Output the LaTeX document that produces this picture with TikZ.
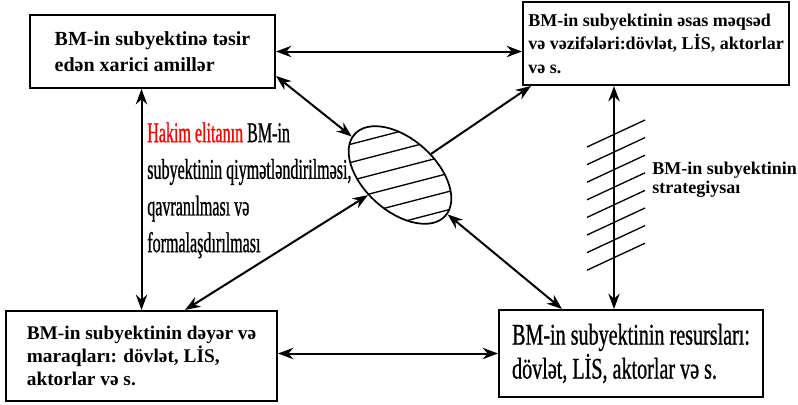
\documentclass[tikz,border=0pt]{standalone}
\usepackage{fontspec}
\setmainfont{Liberation Serif}
\newfontfamily\narrowfont[FakeStretch=0.56, FakeBold=0.8]{Liberation Serif}
\newfontfamily\midfont[FakeStretch=0.67, FakeBold=0.8]{Liberation Serif}
\usetikzlibrary{arrows, arrows.meta}
\usetikzlibrary{positioning}
\usetikzlibrary{calc}
\usetikzlibrary{shapes.geometric}

\tikzset{
  factor/.style={draw, line width=1.5pt, inner sep=0pt, align=left},
  link/.style={line width=1.5pt, {Stealth[length=11.5pt,width=8.5pt]}-{Stealth[length=11.5pt,width=8.5pt]}},
  onelink/.style={line width=1.5pt, -{Stealth[length=11.5pt,width=8.5pt]}},
  hatch/.style={line width=1pt}
}

\begin{document}
\begin{tikzpicture}[x=0.75pt, y=-0.75pt]
				\useasboundingbox (0,0) rectangle (798,404);
				
				% Four boxes
				\node[factor, font=\bfseries\fontsize{15}{19}\selectfont, minimum width=183.75pt, minimum height=54.75pt] (outer) at (152.5,51.5) {BM-in subyektinə təsir\\edən xarici amillər};
				\node[factor, font=\bfseries\fontsize{13.5}{17.6}\selectfont, minimum width=199.5pt, minimum height=62.25pt] (goals) at (656,43.5) {BM-in subyektinin əsas məqsəd\\və vəzifələri:dövlət, LİS, aktorlar\\və s.};
				\node[factor, font=\bfseries\fontsize{14.5}{17}\selectfont, minimum width=203.25pt, minimum height=67.5pt] (values) at (141.5,356) {BM-in subyektinin dəyər və\\maraqları: dövlət, LİS,\\aktorlar və s.};
				\node[factor, font=\midfont\fontsize{22.5}{25.5}\selectfont, minimum width=198pt, minimum height=65.25pt] (means) at (631,353.5) {BM-in subyektinin resursları:\\dövlət, LİS, aktorlar və s.};
				
				% Subject in the middle
				\node[draw, ellipse, line width=1.3pt, minimum width=91.5pt, minimum height=54pt, rotate=-42] (core) at (400,175) {};
				\begin{scope}
					\clip[rotate around={-42:(400,175)}] (400,175) ellipse [x radius=61, y radius=36];
					\foreach \i in {0,...,5}
						\draw[hatch] (330,{149.6+18.2*\i}) -- (470,{113.2+18.2*\i});
				\end{scope}
				
				% Labels
				\node[anchor=north west, inner sep=0pt, align=left, font=\narrowfont\fontsize{21.5}{27.5}\selectfont] (view) at (147,122) {\textcolor{red}{Hakim elitanın} BM-in\\subyektinin qiymətləndirilməsi,\\qavranılması və\\formalaşdırılması};
				\node[anchor=north west, inner sep=0pt, align=left, font=\bfseries\fontsize{13.5}{14}\selectfont] (strategy) at (652,162) {BM-in subyektinin\\strategiysaı};
				
				% Links
				\draw[link] (outer.east) -- (outer.east -| goals.west);
				\draw[link] ($(outer.south east)+(0,-13)$) -- (core);
				\draw[link] (outer.south -| values.north) -- (values.north);
				\draw[link] ($(values.north)+(43.5,0)$) -- (core);
				\draw[onelink] (core) -- ($(goals.south west)+(9,0)$);
				\draw[link] (core) -- ($(means.north west)+(64,0)$);
				\draw[link] (values.east |- means.west) -- (means.west);
				
				% Strategy line, crossed
				\coordinate (strat) at ($(goals.south west)+(92,0)$);
				\draw[link] (strat) -- (strat |- means.north);
				\foreach \i in {0,...,7}
					\draw[hatch] (587,{147+17.6*\i}) -- (645,{120+17.6*\i});
				
			\end{tikzpicture}
\end{document}
